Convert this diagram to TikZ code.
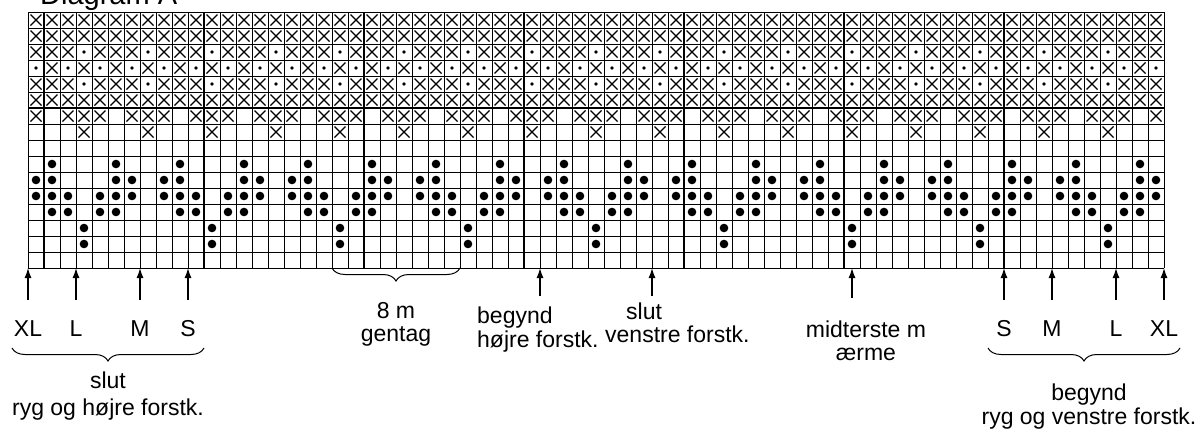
\documentclass[tikz,border=0pt]{standalone}
\usepackage{fontspec}
\setmainfont{Liberation Sans}
\usetikzlibrary{arrows.meta,decorations.pathreplacing}
\newcommand\drawX[2]{\draw[xst] (#1-5.5,#2-5.5) -- (#1+5.5,#2+5.5) (#1-5.5,#2+5.5) -- (#1+5.5,#2-5.5);}
\newcommand\sdot[2]{\fill (#1,#2) circle (1.9);}
\newcommand\bdot[2]{\fill (#1,#2) circle (4.3);}
\begin{document}
\begin{tikzpicture}[x=1pt,y=-1pt,
  gridline/.style={line width=1pt},
  thickline/.style={line width=2.2pt},
  xst/.style={line width=1.1pt},
  arr/.style={line width=1.3pt,-{Latex[length=10pt,width=7pt]}},
  lbl/.style={font=\fontsize{23}{24}\selectfont, inner sep=0pt, anchor=base},
  brc/.style={decorate, decoration={brace,mirror,amplitude=13pt}, line width=1pt}]
\useasboundingbox (0,0) rectangle (1197,432);
\fill[white] (0,0) rectangle (1197,432);
\node[font=\fontsize{29}{30}\selectfont, inner sep=0pt, anchor=base west] (title) at (40,4) {Diagram A};
% grid
\foreach \i in {0,...,71} \draw[gridline] (28+16*\i,12) -- (28+16*\i,268);
\foreach \j in {0,...,16} \draw[gridline] (28,12+16*\j) -- (1164,12+16*\j);
\foreach \i in {1,11,...,61} \draw[thickline] (28+16*\i,12) -- (28+16*\i,268);
\draw[thickline] (28,108) -- (1164,108);
% cells
\foreach \c in {0,...,70}{
  \pgfmathtruncatemacro\mf{mod(\c,4)}
  \pgfmathtruncatemacro\me{mod(\c,8)}
  \pgfmathtruncatemacro\mt{mod(\c,2)}
  \pgfmathsetmacro\cx{36+16*\c}
  \drawX{\cx}{20}\drawX{\cx}{36}\drawX{\cx}{100}
  \ifnum\mf=3 \sdot{\cx}{52}\sdot{\cx}{84}\else\drawX{\cx}{52}\drawX{\cx}{84}\fi
  \ifnum\mt=0 \sdot{\cx}{68}\else\drawX{\cx}{68}\fi
  \ifnum\mf=1 \else\drawX{\cx}{116}\fi
  \ifnum\mf=3 \drawX{\cx}{132}\fi
  \ifnum\mf=1 \bdot{\cx}{164}\fi
  \ifcase\me \bdot{\cx}{180}\or\bdot{\cx}{180}\or\or\or\or\bdot{\cx}{180}\or\bdot{\cx}{180}\or\fi
  \ifnum\mf=3 \else\bdot{\cx}{196}\fi
  \ifcase\me \or\bdot{\cx}{212}\or\bdot{\cx}{212}\or\or\bdot{\cx}{212}\or\bdot{\cx}{212}\or\or\fi
  \ifnum\me=3 \bdot{\cx}{228}\bdot{\cx}{244}\fi
}
% size labels left
\node[lbl] (xlL) at (28,336) {XL};
\node[lbl] (lL) at (76,336) {L};
\node[lbl] (mL) at (140,336) {M};
\node[lbl] (sL) at (188,336) {S};
\foreach \n/\x in {XLl/28,Ll/76,Ml/140,Sl/188,Sr/1004,Mr/1052,Lr/1116,XLr/1164}{
  \coordinate (h\n) at (\x,268);
  \coordinate (t\n) at (\x,300);
  \draw[arr] (t\n) -- (h\n);
}
\node[lbl] (sR) at (1004,336) {S};
\node[lbl] (mR) at (1052,336) {M};
\node[lbl] (lR) at (1116,336) {L};
\node[lbl] (xlR) at (1164,336) {XL};
% braces
\coordinate (bl1) at (12,348); \coordinate (bl2) at (204,348);
\draw[brc] (bl1) -- (bl2);
\coordinate (br1) at (988,348); \coordinate (br2) at (1180,348);
\draw[brc] (br1) -- (br2);
\coordinate (bg1) at (332,268); \coordinate (bg2) at (460,268);
\draw[brc] (bg1) -- (bg2);
% texts (anchor = baseline of last line)
\node[lbl, align=center, font=\fontsize{23}{27}\selectfont] (slutL) at (108,415) {slut\\ryg og højre forstk.};
\node[lbl, align=center] (begR) at (1089,424) {begynd\\ryg og venstre forstk.};
\node[lbl, align=center, font=\fontsize{23}{23}\selectfont] (gentag) at (396,341) {8 m\\gentag};
\node[lbl, align=left, anchor=base west] (begH) at (477,347) {begynd\\højre forstk.};
\node[lbl, align=left, anchor=base west, font=\fontsize{23}{23}\selectfont] (slutV) at (605,342) {\hspace*{21pt}slut\\venstre forstk.};
\node[lbl, align=center, font=\fontsize{23}{23}\selectfont] (midt) at (866,360) {midterste m\\ærme};
% single arrows
\coordinate (hBeg) at (540,268); \coordinate (tBeg) at (540,296);
\draw[arr] (tBeg) -- (hBeg);
\coordinate (hSlut) at (652,268); \coordinate (tSlut) at (652,296);
\draw[arr] (tSlut) -- (hSlut);
\coordinate (hMid) at (852,268); \coordinate (tMid) at (852,298);
\draw[arr] (tMid) -- (hMid);
\end{tikzpicture}
\end{document}
